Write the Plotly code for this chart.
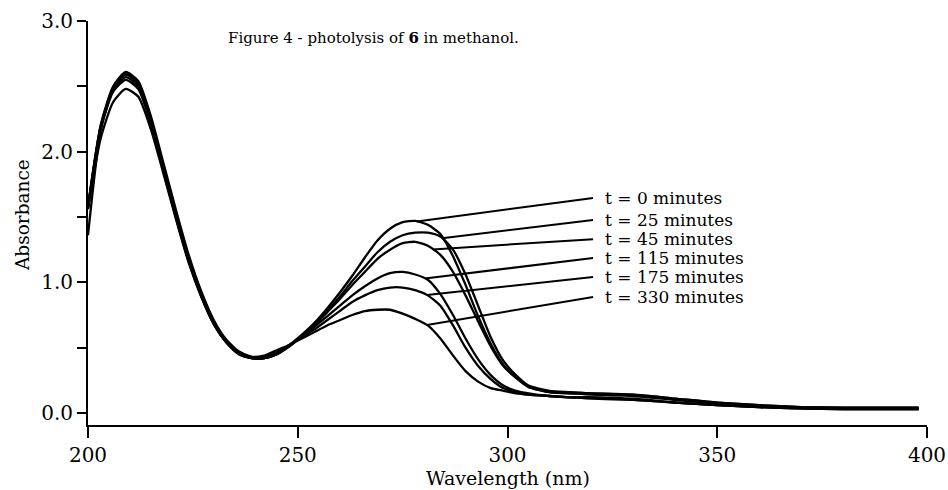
import numpy as np
import plotly.graph_objects as go

wavelength = [200, 203, 206, 209, 212, 215, 218, 221, 224, 227, 230, 233, 236, 239, 242,
              245, 248, 251, 254, 257, 260, 263, 266, 269, 272, 275, 278, 281, 284, 287,
              290, 293, 296, 299, 302, 305, 310, 315, 320, 330, 340, 350, 360, 370, 380,
              390, 398]

abs_t0 = [1.36, 2.16, 2.48, 2.60, 2.52, 2.24, 1.88, 1.52, 1.18, 0.91, 0.69, 0.55, 0.46, 0.42, 0.42,
          0.45, 0.52, 0.60, 0.69, 0.80, 0.92, 1.05, 1.19, 1.32, 1.41, 1.46, 1.47, 1.44, 1.37, 1.20,
          0.98, 0.74, 0.53, 0.37, 0.27, 0.20, 0.16, 0.15, 0.15, 0.14, 0.11, 0.08, 0.06, 0.045, 0.04,
          0.04, 0.04]
abs_t25 = [1.58, 2.20, 2.50, 2.61, 2.54, 2.27, 1.91, 1.55, 1.21, 0.93, 0.71, 0.56, 0.47, 0.43, 0.42,
           0.45, 0.51, 0.59, 0.68, 0.78, 0.89, 1.01, 1.12, 1.23, 1.31, 1.36, 1.38, 1.38, 1.35, 1.25,
           1.06, 0.82, 0.58, 0.40, 0.29, 0.21, 0.17, 0.16, 0.15, 0.14, 0.11, 0.08, 0.06, 0.045, 0.04,
           0.04, 0.04]
abs_t45 = [1.58, 2.19, 2.49, 2.59, 2.52, 2.25, 1.89, 1.53, 1.19, 0.92, 0.70, 0.55, 0.46, 0.42, 0.42,
           0.45, 0.51, 0.59, 0.67, 0.77, 0.87, 0.98, 1.08, 1.18, 1.25, 1.30, 1.31, 1.28, 1.21, 1.08,
           0.90, 0.70, 0.51, 0.36, 0.27, 0.20, 0.16, 0.15, 0.14, 0.13, 0.10, 0.07, 0.05, 0.04, 0.035,
           0.035, 0.035]
abs_t115 = [1.57, 2.18, 2.47, 2.57, 2.50, 2.23, 1.87, 1.51, 1.17, 0.90, 0.68, 0.54, 0.45, 0.42, 0.42,
            0.46, 0.52, 0.59, 0.66, 0.74, 0.82, 0.90, 0.97, 1.03, 1.07, 1.08, 1.06, 1.02, 0.91, 0.75,
            0.57, 0.41, 0.29, 0.21, 0.17, 0.15, 0.13, 0.12, 0.12, 0.11, 0.08, 0.06, 0.045, 0.035, 0.03,
            0.03, 0.03]
abs_t175 = [1.57, 2.17, 2.46, 2.55, 2.48, 2.21, 1.85, 1.49, 1.16, 0.89, 0.68, 0.54, 0.45, 0.42, 0.43,
            0.46, 0.52, 0.58, 0.64, 0.71, 0.78, 0.85, 0.90, 0.94, 0.96, 0.96, 0.94, 0.90, 0.82, 0.67,
            0.50, 0.36, 0.26, 0.19, 0.16, 0.14, 0.13, 0.12, 0.12, 0.10, 0.08, 0.06, 0.045, 0.035, 0.03,
            0.03, 0.03]
abs_t330 = [1.56, 2.10, 2.38, 2.48, 2.42, 2.17, 1.83, 1.48, 1.15, 0.89, 0.68, 0.54, 0.46, 0.43, 0.44,
            0.48, 0.52, 0.57, 0.62, 0.67, 0.71, 0.75, 0.78, 0.79, 0.79, 0.76, 0.72, 0.67, 0.57, 0.44,
            0.32, 0.24, 0.19, 0.17, 0.15, 0.14, 0.13, 0.12, 0.11, 0.10, 0.08, 0.06, 0.045, 0.035, 0.03,
            0.03, 0.03]

series = [abs_t0, abs_t25, abs_t45, abs_t115, abs_t175, abs_t330]
labels = ["t = 0 minutes", "t = 25 minutes", "t = 45 minutes",
          "t = 115 minutes", "t = 175 minutes", "t = 330 minutes"]
leader_wl = [278.4, 284.4, 282.2, 280.3, 280.8, 280.8]
leader_end_wl = 320.4
label_wl = 323.0
label_abs = [1.645, 1.477, 1.33, 1.186, 1.04, 0.888]

x_ticks = [200, 250, 300, 350, 400]
y_ticks = [0.0, 1.0, 2.0, 3.0]

FONT = "DejaVu Serif"

fig = go.Figure()
for ys in series:
    fig.add_trace(go.Scatter(x=wavelength, y=ys, mode="lines",
                             line=dict(color="black", width=2.3, shape="spline", smoothing=0.6),
                             showlegend=False, hoverinfo="skip"))

for wl, ys, la, lab in zip(leader_wl, series, label_abs, labels):
    y0 = float(np.interp(wl, wavelength, ys))
    fig.add_trace(go.Scatter(x=[wl, leader_end_wl], y=[y0, la], mode="lines",
                             line=dict(color="black", width=2),
                             showlegend=False, hoverinfo="skip"))
    fig.add_annotation(x=label_wl, y=la, xref="x", yref="y", text=lab, showarrow=False,
                       xanchor="left", yanchor="middle", borderpad=0,
                       font=dict(family=FONT, size=17, color="black"))

fig.add_annotation(x=268, y=2.87, xref="x", yref="y",
                   text="Figure 4 - photolysis of <b>6</b> in methanol.", showarrow=False,
                   xanchor="center", yanchor="middle",
                   font=dict(family=FONT, size=15, color="black"))
fig.add_annotation(x=0, y=1.515, xref="paper", yref="y", text="Absorbance", textangle=-90,
                   showarrow=False, xanchor="center", yanchor="middle", xshift=-66,
                   font=dict(family=FONT, size=18.5, color="black"))
fig.add_annotation(x=300, y=0, xref="x", yref="paper", text="Wavelength (nm)",
                   showarrow=False, xanchor="center", yanchor="middle", yshift=-53,
                   font=dict(family=FONT, size=19, color="black"))

fig.update_xaxes(range=[200, 400], tickvals=x_ticks, ticktext=[str(v) for v in x_ticks],
                 automargin=False,
                 showgrid=False, zeroline=False, showline=True, linecolor="black", linewidth=2,
                 ticks="outside", ticklen=11, tickwidth=2, tickcolor="black",
                 tickfont=dict(family=FONT, size=20, color="black"))
fig.update_yaxes(range=[-0.092, 3.0], tickvals=y_ticks, ticktext=["%.1f" % v for v in y_ticks],
                 automargin=False,
                 showgrid=False, zeroline=False, showline=True, linecolor="black", linewidth=2,
                 ticks="outside", ticklen=9, tickwidth=2, tickcolor="black",
                 minor=dict(tickvals=[0.5, 1.5, 2.5], ticks="outside", ticklen=9,
                            tickwidth=2, tickcolor="black", showgrid=False),
                 tickfont=dict(family=FONT, size=20, color="black"))

fig.update_layout(width=948, height=490, margin=dict(l=88, r=21, t=21, b=65),
                  plot_bgcolor="white", paper_bgcolor="white")

fig.write_html("out.html", config={"displayModeBar": False},
               post_script="document.body.style.margin='0';document.body.style.overflow='hidden';")
